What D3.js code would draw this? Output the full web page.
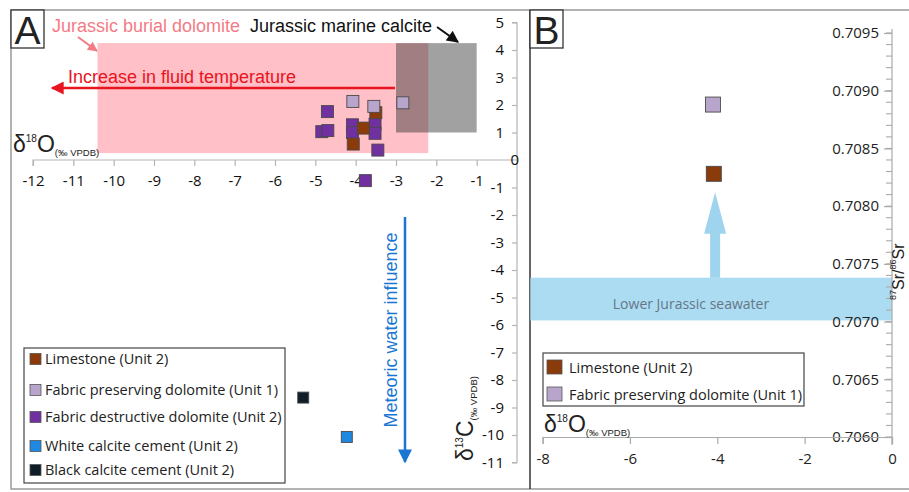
<!DOCTYPE html>
<html><head><meta charset="utf-8">
<script src="https://cdn.jsdelivr.net/npm/d3@7"></script>
<style>body{margin:0;background:#fff}svg{display:block}</style>
</head><body>
<svg id="c" width="909" height="492"></svg>
<script>
// ---- data ----
const xTicksA = [-12,-11,-10,-9,-8,-7,-6,-5,-4,-3,-2,-1];
const yTicksA = [5,4,3,2,1,0,-1,-2,-3,-4,-5,-6,-7,-8,-9,-10,-11];
const limestoneA = [[-3.81,1.16],[-4.06,0.58],[-3.5,1.72]];
const preservingA = [[-4.07,2.13],[-3.55,1.95],[-2.83,2.08]];
const destructiveA = [[-4.7,1.76],[-4.84,1.03],[-4.69,1.07],[-4.08,1.28],[-4.08,1.0],[-3.52,1.3],[-3.52,0.97],[-3.45,0.36],[-3.76,-0.75]];
const whiteCalciteA = [[-4.22,-10.07]];
const blackCalciteA = [[-5.3,-8.64]];
const burialDolomite = {x:[-10.4,-2.2], y:[0.25,4.25]};
const marineCalcite = {x:[-3,-1], y:[1,4.25]};
const legendA = ["Limestone (Unit 2)","Fabric preserving dolomite (Unit 1)","Fabric destructive dolomite (Unit 2)","White calcite cement (Unit 2)","Black calcite cement (Unit 2)"];

const xTicksB = [-8,-6,-4,-2,0];
const yMajorB = [0.706,0.7065,0.707,0.7075,0.708,0.7085,0.709,0.7095];
const yMinorB = d3.range(0,36).map(i=>0.706+i*0.0001);
const limestoneB = [[-4.08,0.70828]];
const preservingB = [[-4.1,0.70888]];
const seawaterBand = {x:[-8.28,0], y:[0.70701,0.70738]};
const arrowB = {x:-4.05, y0:0.70738, yHead:0.70776, yTip:0.70812};
const legendB = ["Limestone (Unit 2)","Fabric preserving dolomite (Unit 1)"];

const colors = {lime:"#8b3a0a", pres:"#b8a5cc", dest:"#7030a0", white:"#1f88e0", black:"#0f1d29"};

const svg = d3.select("#c");
const F = "'Open Sans', sans-serif";
const A = "'Liberation Sans', Arial, sans-serif";
const hy = d => String(d).replace("\u2212","-");

// frames
svg.append("rect").attr("x",11).attr("y",10).attr("width",910).attr("height",479)
  .attr("fill","none").attr("stroke","#9a9a9a").attr("stroke-width",1.5);
svg.append("line").attr("x1",530).attr("x2",530).attr("y1",10).attr("y2",489).attr("stroke","#333").attr("stroke-width",1.5);

// ===== Panel A =====
const xA = d3.scaleLinear([-12,0],[33,517]);
const yA = d3.scaleLinear([-11,5],[462.5,22.5]);

svg.append("rect").attr("x",xA(burialDolomite.x[0])).attr("y",yA(burialDolomite.y[1]))
  .attr("width",xA(burialDolomite.x[1])-xA(burialDolomite.x[0])).attr("height",yA(burialDolomite.y[0])-yA(burialDolomite.y[1]))
  .attr("fill","#ffc0c7");
svg.append("rect").attr("x",xA(marineCalcite.x[0])).attr("y",yA(marineCalcite.y[1]))
  .attr("width",xA(marineCalcite.x[1])-xA(marineCalcite.x[0])).attr("height",yA(marineCalcite.y[0])-yA(marineCalcite.y[1]))
  .attr("fill","rgb(40,40,40)").attr("fill-opacity",0.44);

// axes A
const gxA = svg.append("g").attr("transform",`translate(0,${yA(0)})`)
  .call(d3.axisBottom(xA).tickValues(xTicksA).tickSize(6).tickPadding(9).tickFormat(hy));
const gyA = svg.append("g").attr("transform",`translate(${xA(0)},0)`)
  .call(d3.axisLeft(yA).tickValues(yTicksA).tickSize(5).tickPadding(8).tickFormat(hy));
[gxA,gyA].forEach(g=>{
  g.select(".domain").attr("stroke","#b5b5b5").attr("stroke-width",1.2);
  g.selectAll(".tick line").attr("stroke","#b5b5b5").attr("stroke-width",1.2);
  g.selectAll("text").attr("font-family",F).attr("font-size",15).attr("fill","#111");
});
gxA.select(".domain").attr("d",`M${xA(-12)},6V0H${xA(0)}`);
gyA.select(".domain").attr("d",`M-5,${yA(5)}H0V${yA(-11)}H-5`);
gyA.selectAll(".tick").filter(d=>d===0).select("text").attr("x",2);
gyA.selectAll(".tick").filter(d=>d===0).select("line").remove();

// arrows & labels A
const defs = svg.append("defs");
function marker(id,color,w,h){
  defs.append("marker").attr("id",id).attr("viewBox","0 0 10 10").attr("refX",9).attr("refY",5)
   .attr("markerWidth",w).attr("markerHeight",h).attr("orient","auto").attr("markerUnits","userSpaceOnUse")
   .append("path").attr("d","M0,0L10,5L0,10Z").attr("fill",color);
}
marker("mPink","#f47b86",12,10);
marker("mBlack","#111",14,12);
marker("mRed","#e8141e",17,13);
marker("mBlue","#1976d2",14,16);

svg.append("text").attr("x",52).attr("y",32).attr("font-family",A).attr("font-size",18).attr("fill","#f47b86").text("Jurassic burial dolomite");
svg.append("text").attr("x",250).attr("y",32).attr("font-family",A).attr("font-size",18).attr("fill","#111").text("Jurassic marine calcite");
svg.append("line").attr("x1",78).attr("y1",37).attr("x2",97).attr("y2",51).attr("stroke","#f47b86").attr("stroke-width",2).attr("marker-end","url(#mPink)");
svg.append("line").attr("x1",437).attr("y1",27).attr("x2",458).attr("y2",42).attr("stroke","#111").attr("stroke-width",2).attr("marker-end","url(#mBlack)");
svg.append("line").attr("x1",395).attr("y1",88).attr("x2",52).attr("y2",88).attr("stroke","#e8141e").attr("stroke-width",2.5).attr("marker-end","url(#mRed)");
svg.append("text").attr("x",68).attr("y",83).attr("font-family",A).attr("font-size",18).attr("fill","#e8141e").text("Increase in fluid temperature");

// meteoric arrow
svg.append("line").attr("x1",405).attr("y1",217).attr("x2",405).attr("y2",462).attr("stroke","#1976d2").attr("stroke-width",2.5).attr("marker-end","url(#mBlue)");
svg.append("text").attr("transform","translate(397,330) rotate(-90)").attr("text-anchor","middle")
  .attr("font-family",A).attr("font-size",18).attr("fill","#1976d2").text("Meteoric water influence");

// axis titles A
function isoLabel(sel, sup, main){
  sel.attr("font-family",A).attr("fill","#222");
  sel.append("tspan").attr("font-size",23).text("δ");
  sel.append("tspan").attr("font-size",10).attr("dy",-10).text(sup);
  sel.append("tspan").attr("font-size",23).attr("dy",10).text(main);
  sel.append("tspan").attr("font-size",9.5).attr("dy",4).text("(‰ VPDB)");
}
isoLabel(svg.append("text").attr("x",13).attr("y",152),"18","O");
isoLabel(svg.append("text").attr("transform","translate(473,461) rotate(-90)"),"13","C");

// "A" box
svg.append("rect").attr("x",11).attr("y",10).attr("width",33).attr("height",38).attr("fill","#fff").attr("stroke","#333").attr("stroke-width",1.3);
svg.append("text").attr("x",27.5).attr("y",44).attr("text-anchor","middle").attr("font-family",A).attr("font-size",39).attr("fill","#222").text("A");

// points A
function squares(data, color, xs, ys, s){
  svg.append("g").selectAll("rect").data(data).join("rect")
    .attr("x",d=>xs(d[0])-s/2).attr("y",d=>ys(d[1])-s/2).attr("width",s).attr("height",s)
    .attr("fill",color).attr("stroke","#4a4a4a").attr("stroke-width",0.9);
}
squares(destructiveA, colors.dest, xA, yA, 12);
squares(limestoneA, colors.lime, xA, yA, 12);
squares(preservingA, colors.pres, xA, yA, 12);
squares(whiteCalciteA, colors.white, xA, yA, 11);
squares(blackCalciteA, colors.black, xA, yA, 11);

// legend A
svg.append("rect").attr("x",24).attr("y",348).attr("width",261).attr("height",135).attr("fill","#fff").attr("stroke","#444").attr("stroke-width",1.2);
const legAy = [359,390,417,446,470];
const legAc = [colors.lime,colors.pres,colors.dest,colors.white,colors.black];
legendA.forEach((t,i)=>{
  svg.append("rect").attr("x",30).attr("y",legAy[i]-5.5).attr("width",11).attr("height",11).attr("fill",legAc[i]).attr("stroke","#555").attr("stroke-width",0.8);
  svg.append("text").attr("x",45).attr("y",legAy[i]+5).attr("font-family",F).attr("font-size",14.5).attr("fill","#222").text(t);
});

// ===== Panel B =====
const xB = d3.scaleLinear([-8,0],[542.6,892]);
const yB = d3.scaleLinear([0.706,0.7095],[437,33]);

svg.append("rect").attr("x",xB(seawaterBand.x[0])).attr("y",yB(seawaterBand.y[1]))
  .attr("width",xB(seawaterBand.x[1])-xB(seawaterBand.x[0])).attr("height",yB(seawaterBand.y[0])-yB(seawaterBand.y[1]))
  .attr("fill","#abdcf2");
svg.append("text").attr("x",691).attr("y",309).attr("text-anchor","middle").attr("font-family",F).attr("font-size",14).attr("fill","#667686").text("Lower Jurassic seawater");
// upward arrow
const ax = xB(arrowB.x);
svg.append("path").attr("d",`M${ax-5},${yB(arrowB.y0)}V${yB(arrowB.yHead)}H${ax-11}L${ax},${yB(arrowB.yTip)}L${ax+11},${yB(arrowB.yHead)}H${ax+5}V${yB(arrowB.y0)}Z`).attr("fill","#9fd4ee");

const gyB = svg.append("g").attr("transform",`translate(${xB(0)},0)`)
  .call(d3.axisLeft(yB).tickValues(yMajorB).tickSize(8).tickPadding(5).tickFormat(d3.format(".4f")));
svg.append("g").attr("transform",`translate(${xB(0)},0)`).selectAll("line").data(yMinorB).join("line")
  .attr("x1",-6).attr("x2",0).attr("y1",d=>yB(d)).attr("y2",d=>yB(d)).attr("stroke","#aaa").attr("stroke-width",1.1);
const gxB = svg.append("g").attr("transform",`translate(0,${yB(0.706)})`)
  .call(d3.axisBottom(xB).tickValues(xTicksB).tickSize(7).tickPadding(9).tickFormat(hy));
[gxB,gyB].forEach(g=>{
  g.select(".domain").attr("stroke","#aaa").attr("stroke-width",1.2);
  g.selectAll(".tick line").attr("stroke","#aaa").attr("stroke-width",1.2);
  g.selectAll("text").attr("font-family",F).attr("font-size",15).attr("fill","#222");
});
gyB.select(".domain").attr("d",`M0,${yB(0.7095)-4}V${yB(0.706)+8}`);

isoLabel(svg.append("text").attr("x",544).attr("y",432),"18","O");
const sr = svg.append("text").attr("transform","translate(904,300) rotate(-90)").attr("font-family",A).attr("fill","#222");
sr.append("tspan").attr("font-size",9).attr("dy",-8).text("87");
sr.append("tspan").attr("font-size",16).attr("dy",8).text("Sr/");
sr.append("tspan").attr("font-size",9).attr("dy",-8).text("86");
sr.append("tspan").attr("font-size",16).attr("dy",8).text("Sr");

squares(limestoneB, colors.lime, xB, yB, 15);
squares(preservingB, colors.pres, xB, yB, 15);

// legend B
svg.append("rect").attr("x",543).attr("y",353).attr("width",261).attr("height",53).attr("fill","#fff").attr("stroke","#444").attr("stroke-width",1.2);
const legBy = [367,394];
const legBc = [colors.lime,colors.pres];
legendB.forEach((t,i)=>{
  svg.append("rect").attr("x",547).attr("y",legBy[i]-7).attr("width",15).attr("height",14).attr("fill",legBc[i]).attr("stroke","#555").attr("stroke-width",0.8);
  svg.append("text").attr("x",569).attr("y",legBy[i]+5.5).attr("font-family",F).attr("font-size",14.5).attr("fill","#222").text(t);
});

// "B" box
svg.append("rect").attr("x",530).attr("y",10).attr("width",33).attr("height",38).attr("fill","#fff").attr("stroke","#333").attr("stroke-width",1.3);
svg.append("text").attr("x",546.5).attr("y",44).attr("text-anchor","middle").attr("font-family",A).attr("font-size",39).attr("fill","#222").text("B");
</script>
</body></html>
